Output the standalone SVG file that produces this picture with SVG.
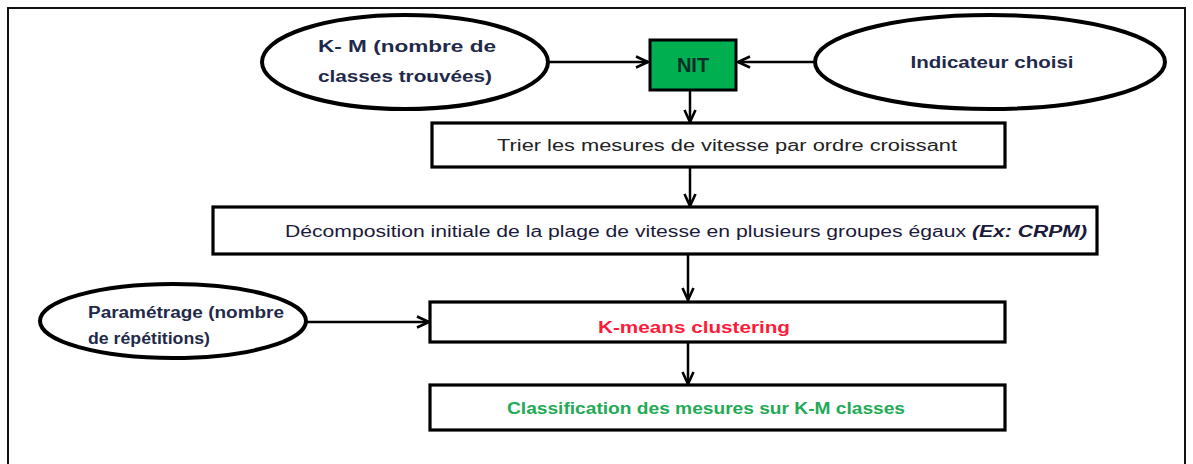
<svg xmlns="http://www.w3.org/2000/svg" width="1193" height="464" viewBox="0 0 1193 464">
<style>
.frame{fill:#fff;stroke:#111;stroke-width:2}
.ell{fill:#fff;stroke:#000;stroke-width:4}
.box{fill:#fff;stroke:#000;stroke-width:3.2}
.conn{stroke:#000;stroke-width:2.5;fill:none;marker-end:url(#arr)}
.t{font-family:"Liberation Sans",Arial,sans-serif;font-size:16px}
.b{font-weight:bold}
.big{font-size:20px}
</style>
<defs>
<marker id="arr" viewBox="0 0 14 14" refX="13" refY="7" markerWidth="14" markerHeight="14" markerUnits="userSpaceOnUse" orient="auto">
<path d="M1,1.5 L13,7 L1,12.5" fill="none" stroke="#000" stroke-width="2.6"/>
</marker>
</defs>
<rect width="1193" height="464" fill="#fff"/>
<rect class="frame" x="8" y="8" width="1177" height="470"/>
<g id="connectors">
<line class="conn" x1="549" y1="62" x2="648" y2="62"/>
<line class="conn" x1="815" y1="62" x2="738" y2="62"/>
<line class="conn" x1="690" y1="90" x2="690" y2="122"/>
<line class="conn" x1="690" y1="167" x2="690" y2="206"/>
<line class="conn" x1="688" y1="255" x2="688" y2="300"/>
<line class="conn" x1="305" y1="322" x2="429" y2="322"/>
<line class="conn" x1="688" y1="342" x2="688" y2="384"/>
</g>
<g id="km">
<ellipse class="ell" cx="405" cy="62" rx="143" ry="47"/>
<text class="t b" x="318" y="52" fill="#1f2a4a" textLength="178" lengthAdjust="spacingAndGlyphs">K- M  (nombre de</text>
<text class="t b" x="318" y="82" fill="#1f2a4a" textLength="174" lengthAdjust="spacingAndGlyphs">classes trouvées)</text>
</g>
<g id="nit">
<rect x="650" y="40" width="86" height="50" fill="#00B050" stroke="#000" stroke-width="3"/>
<text class="t b big" x="693" y="72" fill="#0c2c2a" text-anchor="middle">NIT</text>
</g>
<g id="indicateur">
<ellipse class="ell" cx="990" cy="62" rx="175" ry="47"/>
<text class="t b" x="992" y="68" fill="#1f2a4a" text-anchor="middle" textLength="163" lengthAdjust="spacingAndGlyphs">Indicateur choisi</text>
</g>
<g id="trier">
<rect class="box" x="432" y="123" width="573" height="44"/>
<text class="t" x="727" y="151" fill="#222" text-anchor="middle" textLength="460" lengthAdjust="spacingAndGlyphs">Trier les mesures de vitesse par ordre croissant</text>
</g>
<g id="decomp">
<rect class="box" x="213" y="207" width="884" height="47" stroke-width="3.8"/>
<text class="t" x="285" y="237" fill="#1a1a3a" textLength="802" lengthAdjust="spacingAndGlyphs">Décomposition initiale de la plage de vitesse en plusieurs groupes égaux <tspan font-style="italic" font-weight="bold">(Ex: CRPM)</tspan></text>
</g>
<g id="param">
<ellipse class="ell" cx="173" cy="321" rx="133" ry="37"/>
<text class="t b" x="88" y="318" fill="#1f2a4a" textLength="196" lengthAdjust="spacingAndGlyphs">Paramétrage (nombre</text>
<text class="t b" x="88" y="344" fill="#1f2a4a" textLength="122" lengthAdjust="spacingAndGlyphs">de répétitions)</text>
</g>
<g id="kmeans">
<rect class="box" x="430" y="302" width="575" height="40"/>
<text class="t b" x="598" y="333" fill="#ff1a3a" textLength="192" lengthAdjust="spacingAndGlyphs">K-means clustering</text>
</g>
<g id="classif">
<rect class="box" x="430" y="385" width="575" height="45"/>
<text class="t b" x="507" y="414" fill="#22aa55" textLength="398" lengthAdjust="spacingAndGlyphs">Classification des mesures sur K-M classes</text>
</g>
</svg>
